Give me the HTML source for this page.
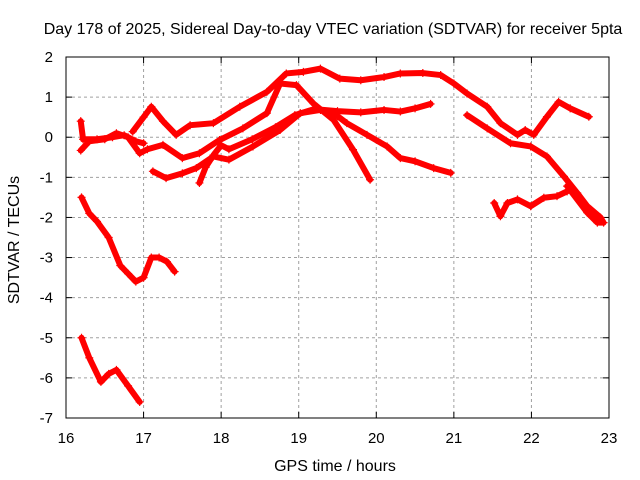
<!DOCTYPE html>
<html><head><meta charset="utf-8"><style>
body{margin:0;background:#fff;}
svg{display:block;font-family:"Liberation Sans",sans-serif;}
</style></head><body>
<svg id="chart" width="640" height="480" viewBox="0 0 640 480">
<rect width="640" height="480" fill="#fff"/>
<text x="333" y="34" font-size="16" text-anchor="middle">Day 178 of 2025, Sidereal Day-to-day VTEC variation (SDTVAR) for receiver 5pta</text>
<text x="335" y="471" font-size="16" text-anchor="middle">GPS time / hours</text>
<text transform="translate(19,240) rotate(-90)" font-size="16" text-anchor="middle">SDTVAR / TECUs</text>
<g id="grid"></g>
<g id="series"></g>
<rect x="66" y="57" width="543" height="361" fill="none" stroke="#000" stroke-width="1"/>
</svg>
<script>
const xTicks=[16,17,18,19,20,21,22,23];
const yTicks=[2,1,0,-1,-2,-3,-4,-5,-6,-7];
const track1X=[17.72,17.8,17.9,18.0,18.1,18.4,18.7,18.95,19.2,19.5,19.8,20.1,20.31,20.5,20.7];
const track1Y=[-1.14,-0.75,-0.45,-0.2,-0.3,-0.05,0.25,0.55,0.7,0.65,0.62,0.68,0.64,0.72,0.83];
const track2X=[16.86,17.0,17.1,17.25,17.42,17.6,17.9,18.24,18.59,18.84,19.06,19.28,19.53,19.8,20.1,20.31,20.6,20.83,21.0,21.17,21.43,21.6,21.82,21.92,22.03,22.2,22.35,22.5,22.74];
const track2Y=[0.14,0.5,0.76,0.4,0.06,0.3,0.35,0.76,1.13,1.59,1.63,1.71,1.46,1.42,1.5,1.59,1.6,1.55,1.34,1.09,0.76,0.35,0.06,0.18,0.06,0.51,0.88,0.72,0.51];
const track3X=[16.19,16.3,16.5,16.65,16.8,16.95,17.05,17.25,17.5,17.72,17.98,18.28,18.59,18.76,18.97,19.19,19.45,19.7,19.92];
const track3Y=[-0.33,-0.1,-0.05,0.1,0.0,-0.4,-0.3,-0.19,-0.52,-0.4,-0.07,0.22,0.6,1.34,1.3,0.84,0.43,-0.31,-1.06];
const track4X=[17.12,17.29,17.5,17.68,17.9,18.1,18.41,18.76,19.02,19.28,19.45,19.62,19.88,20.14,20.31,20.5,20.74,20.96];
const track4Y=[-0.85,-1.02,-0.9,-0.77,-0.48,-0.56,-0.23,0.18,0.6,0.68,0.6,0.35,0.06,-0.23,-0.52,-0.6,-0.77,-0.89];
const track5X=[21.17,21.43,21.73,21.99,22.2,22.42,22.59,22.72,22.89,22.93,22.85,22.72,22.46];
const track5Y=[0.55,0.22,-0.15,-0.23,-0.48,-0.98,-1.39,-1.72,-2.0,-2.13,-2.13,-1.88,-1.22];
const track6X=[21.52,21.6,21.69,21.82,21.99,22.16,22.33,22.46];
const track6Y=[-1.64,-1.97,-1.64,-1.55,-1.72,-1.51,-1.47,-1.35];
const track7X=[16.19,16.22,16.4,16.6,16.75,16.9,17.0];
const track7Y=[0.4,-0.05,-0.05,0.0,0.05,-0.1,-0.15];
const track8X=[16.2,16.3,16.4,16.55,16.7,16.8,16.9,17.0,17.1,17.2,17.3,17.4];
const track8Y=[-1.5,-1.9,-2.1,-2.5,-3.2,-3.4,-3.6,-3.5,-3.0,-3.0,-3.1,-3.35];
const track9X=[16.2,16.3,16.45,16.55,16.65,16.8,16.95];
const track9Y=[-5.0,-5.5,-6.1,-5.9,-5.8,-6.2,-6.6];

const NS="http://www.w3.org/2000/svg";
function sx(v){return 66+(v-16)*543/7;}
function sy(v){return 57+(2-v)*361/9;}
const grid=document.getElementById('grid');
function mk(tag,attrs,parent){const e=document.createElementNS(NS,tag);for(const k in attrs)e.setAttribute(k,attrs[k]);parent.appendChild(e);return e;}
xTicks.forEach(t=>{
  const x=sx(t);
  if(t>16&&t<23){const l=mk('line',{x1:x,y1:57,x2:x,y2:418,stroke:'#a0a0a0','stroke-dasharray':'3,3'},grid);
  
  }
  mk('line',{x1:x,y1:418,x2:x,y2:412,stroke:'#000'},grid);
  mk('line',{x1:x,y1:57,x2:x,y2:63,stroke:'#000'},grid);
  const tx=mk('text',{x:x,y:443,'font-size':15,'text-anchor':'middle'},grid);
  tx.textContent=t;
  
  
});
yTicks.forEach(t=>{
  const y=sy(t);
  if(t<2&&t>-7){const l=mk('line',{x1:66,y1:y,x2:609,y2:y,stroke:'#a0a0a0','stroke-dasharray':'3,3'},grid);
  
  }
  mk('line',{x1:66,y1:y,x2:72,y2:y,stroke:'#000'},grid);
  mk('line',{x1:609,y1:y,x2:603,y2:y,stroke:'#000'},grid);
  const tx=mk('text',{x:53,y:y+5,'font-size':15,'text-anchor':'end'},grid);
  tx.textContent=t;
  
  
});
const series=document.getElementById('series');
const tracks=[[track1X,track1Y],[track2X,track2Y],[track3X,track3Y],[track4X,track4Y],[track5X,track5Y],[track6X,track6Y],[track7X,track7Y],[track8X,track8Y],[track9X,track9Y]];
tracks.forEach((tr,i)=>{
  const g=mk('g',{},series);
  
  
  const pts=tr[0].map((x,j)=>sx(x)+','+sy(tr[1][j])).join(' ');
  mk('polyline',{points:pts,fill:'none',stroke:'#f00','stroke-width':6,'stroke-linejoin':'round','stroke-linecap':'round'},g);
  tr[0].forEach((x,j)=>{
    const px=sx(x),py=sy(tr[1][j]);
    const m=mk('path',{d:`M${px-4},${py}H${px+4}M${px},${py-4}V${py+4}`,stroke:'#f00','stroke-width':1.2},g);
    
    
  });
});
</script>
</body></html>
